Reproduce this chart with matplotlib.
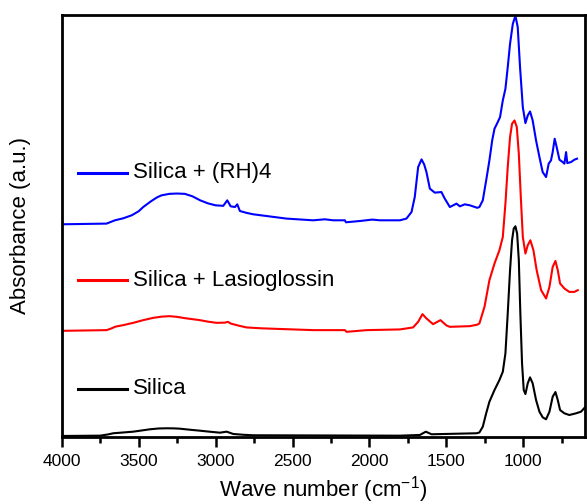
import numpy as np
import matplotlib.pyplot as plt

plt.rcParams['font.family'] = ['Liberation Sans', 'DejaVu Sans']
plt.rcParams['mathtext.default'] = 'regular'

# FTIR spectra, stacked (arbitrary absorbance units, offsets already included)
wn_silica = [4000, 3751, 3700, 3665, 3600, 3535, 3480, 3426, 3370, 3318, 3270, 3232, 3170,
             3102, 3040, 2972, 2928, 2885, 2820, 2755, 1803, 1673, 1634, 1597, 1305,
             1286, 1264, 1242, 1221, 1188, 1156, 1134, 1117, 1102, 1087, 1074, 1063, 1052,
             1041, 1030, 1020, 1009, 998, 987, 972, 957, 940, 918, 896, 875, 853, 831,
             810, 792, 777, 762, 734, 702, 658, 626, 600]
abs_silica = [1, 1.3, 2.5, 3.7, 4.5, 5.3, 6.5, 7.7, 8.5, 8.7, 8.6, 8.3, 7.3,
              6.3, 5.3, 4.3, 5.3, 3, 2.2, 1.7, 1.3, 2, 5.3, 2.7, 3.7,
              4.5, 10.3, 23.7, 35.3, 47, 57, 65.3, 83.7, 123.7, 167, 197, 208.7, 211,
              203.7, 177, 123.7, 73.7, 47, 43, 53.7, 59.7, 53.7, 37, 25.3, 19.7, 17.7, 25.3,
              40.3, 45, 37, 27, 23.7, 22, 23.7, 25.3, 29.7]

wn_lasio = [4000, 3708, 3680, 3650, 3600, 3535, 3470, 3405, 3350, 3300, 3250, 3200, 3102,
            3050, 2994, 2940, 2920, 2900, 2850, 2799, 2700, 2366, 2160, 2149, 2019, 1803,
            1717, 1684, 1656, 1630, 1587, 1539, 1500, 1478, 1348, 1300,
            1286, 1253, 1221, 1188, 1156, 1134, 1117, 1102, 1087, 1074, 1058, 1043, 1030,
            1017, 1004, 987, 972, 955, 935, 914, 885, 853, 831, 810, 792, 777, 762, 734,
            702, 669, 647]
abs_lasio = [106.3, 107, 108.5, 110.5, 112, 114.3, 117, 119.3, 120.5, 121, 120.3, 119, 117,
             115.5, 114.3, 114.5, 115.3, 113.5, 111.5, 109.7, 108.8, 107, 107, 105.3, 107, 107.7,
             109.7, 115.3, 123, 118.7, 113, 117, 111.7, 110.3, 111, 112.5,
             113.7, 130.3, 157, 173.7, 187, 200.3, 233.7, 270.3, 300.3, 313.7, 317, 310.3, 283.7,
             240.3, 200.3, 183.7, 192, 197, 187, 167, 147, 138.7, 150.3, 170.3, 176.3, 167, 153.7, 148.7,
             145.3, 145.3, 147]

wn_rh4 = [4000, 3708, 3654, 3600, 3545, 3500, 3470, 3420, 3380, 3351, 3300, 3250, 3200,
          3150, 3100, 3050, 3000, 2950, 2924, 2902, 2874, 2859, 2842, 2800, 2755, 2669,
          2539, 2366, 2290, 2236, 2160, 2153, 2062, 1982, 1933, 1803, 1760, 1727, 1706,
          1684, 1662, 1645, 1630, 1608, 1576, 1533, 1511, 1478, 1435, 1413, 1381, 1348, 1300,
          1286, 1264, 1242, 1221, 1203, 1188, 1167, 1152, 1134, 1117, 1102, 1087, 1069,
          1052, 1037, 1022, 1004, 987, 972, 957, 940, 918, 896, 875, 853, 836, 821, 810,
          797, 784, 766, 745, 734, 723, 715, 691, 669, 652]
abs_rh4 = [213, 213.7, 217, 219, 222, 226, 230.3, 236, 240, 242, 243.5, 243.8, 243.5,
           241, 237, 234, 232, 231.5, 237, 231, 230.3, 233, 226.3, 224.5, 223, 221.3,
           218.7, 217, 218, 217, 217, 215, 216.3, 217.7, 217, 217, 218.7, 225.3, 240.3,
           270.3, 278, 273, 265.3, 248.7, 244.7, 245.3, 238.7, 230.3, 233.7, 231, 233, 232, 229.5,
           230.3, 237, 257, 277, 297, 308.7, 315.3, 320.3, 337, 348.7, 370.3, 393.7, 413.7,
           422, 410.3, 370.3, 330.3, 314.3, 322, 326, 317, 297, 280.3, 265.3, 260.3, 273.7, 277, 285.3,
           298.7, 290.3, 277.7, 275.3, 273.7, 285.3, 274.3, 275.3, 277.7, 278.7]

labels = ['Silica + (RH)4', 'Silica + Lasioglossin', 'Silica']
colors = ['#0000ff', '#ff0000', '#000000']

fig = plt.figure(figsize=(5.87, 5.04), dpi=100)
ax = fig.add_axes([0.105, 0.133, 0.8916, 0.838])

ax.plot(wn_silica, abs_silica, color=colors[2], lw=1.5)
ax.plot(wn_lasio, abs_lasio, color=colors[1], lw=1.5)
ax.plot(wn_rh4, abs_rh4, color=colors[0], lw=1.5)

ax.set_xlim(4000, 600)
ax.set_ylim(0, 423)
ax.set_xticks(np.arange(4000, 999, -500))
ax.set_xticks(np.arange(3750, 600, -500), minor=True)
ax.set_yticks([])
ax.tick_params(axis='x', which='major', length=7, width=1.8, labelsize=12.5, pad=5)
ax.tick_params(axis='x', which='minor', length=4, width=1.8)
for sp in ax.spines.values():
    sp.set_linewidth(2)

ax.set_xlabel('Wave number (cm$^{-1}$)', fontsize=16, labelpad=4)
ax.set_ylabel('Absorbance (a.u.)', fontsize=16, labelpad=22)

# inline legend: short line + label per spectrum
legend_y = [0.6256, 0.3716, 0.1136]
for lab, col, y in zip(labels, colors, legend_y):
    ax.plot([0.031, 0.125], [y, y], color=col, lw=2.2, transform=ax.transAxes)
    ax.text(0.137, y, lab, fontsize=16, va='center', ha='left', transform=ax.transAxes)

fig.savefig('out.png', dpi=100)
